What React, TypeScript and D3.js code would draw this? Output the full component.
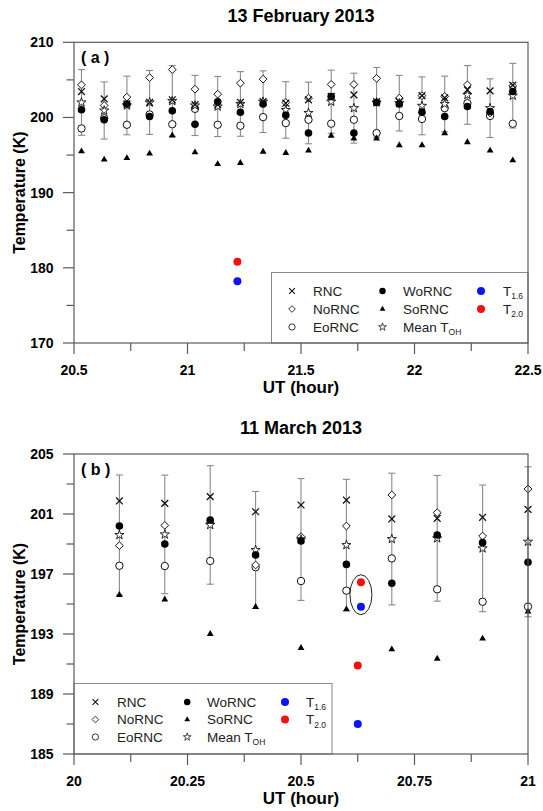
import React from "react";
import * as d3 from "d3";

const FONT = "'Liberation Sans', Arial, Helvetica, sans-serif";

// ---- 13 February 2013 ----
const utFeb = [20.533, 20.633, 20.733, 20.833, 20.933, 21.033, 21.133, 21.233, 21.333, 21.433,
  21.533, 21.633, 21.733, 21.833, 21.933, 22.033, 22.133, 22.233, 22.333, 22.433];
const rncFeb = [203.45, 202.48, 201.8, 202.0, 202.35, 201.7, 201.7, 202.0, 202.1, 201.9,
  202.35, 202.8, 203.0, 202.1, 202.1, 202.9, 202.6, 203.67, 203.54, 204.3];
const norncFeb = [204.34, 201.6, 202.7, 205.3, 206.37, 203.76, 203.1, 204.56, 205.1, 202.0,
  202.57, 204.4, 204.4, 205.2, 202.57, 202.9, 202.8, 204.34, 200.6, 204.2];
const eorncFeb = [198.54, 199.9, 199.03, 200.4, 199.1, 201.15, 199.03, 198.9, 200.05, 199.26,
  199.7, 199.17, 199.7, 197.93, 200.2, 199.8, 201.24, 201.9, 200.2, 199.17];
const worncFeb = [201.02, 199.7, 201.8, 200.13, 200.9, 199.1, 202.1, 200.7, 201.8, 200.3,
  197.93, 202.8, 197.93, 202.0, 201.8, 200.7, 200.13, 201.46, 200.8, 203.45];
const sorncFeb = [195.5, 194.4, 194.6, 195.2, 197.6, 195.36, 193.8, 193.95, 195.45, 195.28,
  195.6, 197.57, 197.2, 197.2, 196.3, 196.3, 197.9, 196.7, 195.6, 194.3];
const meanFeb = [202.0, 200.93, 201.6, 202.0, 202.2, 201.6, 201.46, 201.8, 202.1, 201.0,
  200.6, 202.1, 201.24, 202.0, 201.9, 201.55, 201.8, 203.0, 201.24, 202.9];
const sdFeb = [4.37, 3.8, 3.9, 4.25, 4.7, 4.0, 4.0, 4.3, 4.1, 3.76,
  4.1, 4.2, 4.65, 4.65, 3.7, 3.85, 3.7, 3.9, 3.9, 4.3];
const t16Feb = [[21.22, 178.2]];
const t20Feb = [[21.22, 180.8]];

// ---- 11 March 2013 ----
const utMar = [20.1, 20.2, 20.3, 20.4, 20.5, 20.6, 20.7, 20.8, 20.9, 21.0];
const rncMar = [201.87, 201.71, 202.16, 201.15, 201.6, 201.93, 200.67, 200.71, 200.78, 201.31];
const norncMar = [198.89, 200.24, 200.4, 197.6, 199.49, 200.2, 202.27, 201.09, 199.53, 202.67];
const eorncMar = [197.55, 197.53, 197.87, 197.45, 196.53, 195.89, 198.04, 195.98, 195.15, 194.82];
const worncMar = [200.2, 199.0, 200.6, 198.27, 199.2, 197.64, 196.38, 199.6, 199.09, 197.78];
const sorncMar = [195.6, 195.3, 193.0, 194.8, 192.07, 194.64, 191.98, 191.35, 192.69, 194.49];
const meanMar = [199.6, 199.64, 200.27, 198.6, 199.3, 198.93, 199.33, 199.38, 198.71, 199.15];
const sdMar = [4.0, 3.95, 3.95, 3.9, 4.06, 4.38, 4.39, 4.19, 4.22, 5.0];
const t16Mar = [[20.632, 194.82], [20.625, 187.0]];
const t20Mar = [[20.632, 196.45], [20.625, 190.9]];
const ringMar = [20.632, 195.62];

const ticksFebX = [20.5, 20.75, 21, 21.25, 21.5, 21.75, 22, 22.25, 22.5];
const labelsFebX = [20.5, 21, 21.5, 22, 22.5];
const ticksFebY = [170, 175, 180, 185, 190, 195, 200, 205, 210];
const labelsFebY = [170, 180, 190, 200, 210];
const ticksMarX = [20, 20.125, 20.25, 20.375, 20.5, 20.625, 20.75, 20.875, 21];
const labelsMarX = [20, 20.25, 20.5, 20.75, 21];
const ticksMarY = [185, 187, 189, 191, 193, 195, 197, 199, 201, 203, 205];
const labelsMarY = [185, 189, 193, 197, 201, 205];

const legendNames = ["RNC", "NoRNC", "EoRNC", "WoRNC", "SoRNC", "Mean T", "T", "T"];
const legendSubs = ["", "", "", "", "", "OH", "1.6", "2.0"];
const legendKinds = ["x", "diamond", "open", "filled", "tri", "star", "blue", "red"];

const RED = "#f50f0f";
const BLUE = "#0a14f5";
const AXIS = "#5a5a5a";
const INK = "#222222";

const starPath = d3.symbol(d3.symbolStar, 26)() as string;
const triPath = d3.symbol(d3.symbolTriangle, 20)() as string;

function Marker({ kind, x, y, k = 1 }: { kind: string; x: number; y: number; k?: number }) {
  const t = `translate(${x},${y}) scale(${k})`;
  switch (kind) {
    case "x":
      return <path transform={t} d="M-3.4,-3.4L3.4,3.4M-3.4,3.4L3.4,-3.4" stroke="#111" strokeWidth={1.3} fill="none" />;
    case "diamond":
      return <path transform={t} d="M0,-3.9L3.9,0L0,3.9L-3.9,0Z" stroke="#111" strokeWidth={1} fill="#fff" />;
    case "open":
      return <circle transform={t} r={3.7} stroke="#111" strokeWidth={1} fill="#fff" />;
    case "filled":
      return <circle transform={t} r={3.8} fill="#000" />;
    case "tri":
      return <path transform={t} d={triPath} fill="#000" />;
    case "star":
      return <path transform={t} d={starPath} stroke="#111" strokeWidth={0.9} fill="#fff" />;
    case "blue":
      return <circle cx={x} cy={y} r={4} fill={BLUE} />;
    case "red":
      return <circle cx={x} cy={y} r={4} fill={RED} />;
  }
  return null;
}

type PanelProps = {
  title: string;
  tag: string;
  top: number;
  bottom: number;
  xDomain: [number, number];
  yDomain: [number, number];
  xTicks: number[];
  xLabels: number[];
  yTicks: number[];
  yLabels: number[];
  ut: number[];
  rnc: number[];
  nornc: number[];
  eornc: number[];
  wornc: number[];
  sornc: number[];
  mean: number[];
  sd: number[];
  t16: number[][];
  t20: number[][];
  ring?: number[];
  legend: { box: [number, number, number, number]; symX: number[]; textX: number[]; rowY: number[] };
};

const LEFT = 74;
const RIGHT = 528;

function Panel(p: PanelProps) {
  const x = d3.scaleLinear().domain(p.xDomain).range([LEFT, RIGHT]);
  const y = d3.scaleLinear().domain(p.yDomain).range([p.bottom, p.top]);
  const fmt = (v: number) => String(v);
  const pts = (arr: number[]) => arr.map((v, i) => [x(p.ut[i]), y(v)]);
  const cx = (LEFT + RIGHT) / 2;
  const cy = (p.top + p.bottom) / 2;
  const [bx0, by0, bx1, by1] = p.legend.box;

  return (
    <g>
      <text x={cx} y={p.top - 20.5} textAnchor="middle" fontSize={18} fontWeight="bold" fontFamily={FONT}>{p.title}</text>
      {/* error bars */}
      {p.mean.map((m, i) => {
        const xx = x(p.ut[i]);
        const y0 = y(m - p.sd[i]);
        const y1 = y(m + p.sd[i]);
        return (
          <g key={"e" + i} stroke="#8a8a8a" strokeWidth={1.1}>
            <line x1={xx} x2={xx} y1={y0} y2={y1} />
            <line x1={xx - 3.5} x2={xx + 3.5} y1={y0} y2={y0} />
            <line x1={xx - 3.5} x2={xx + 3.5} y1={y1} y2={y1} />
          </g>
        );
      })}
      {pts(p.eornc).map(([a, b], i) => <Marker key={"o" + i} kind="open" x={a} y={b} />)}
      {pts(p.nornc).map(([a, b], i) => <Marker key={"d" + i} kind="diamond" x={a} y={b} />)}
      {pts(p.mean).map(([a, b], i) => <Marker key={"s" + i} kind="star" x={a} y={b} />)}
      {pts(p.wornc).map(([a, b], i) => <Marker key={"f" + i} kind="filled" x={a} y={b} />)}
      {pts(p.rnc).map(([a, b], i) => <Marker key={"x" + i} kind="x" x={a} y={b} />)}
      {pts(p.sornc).map(([a, b], i) => <Marker key={"t" + i} kind="tri" x={a} y={b} />)}
      {p.t16.map((d, i) => <Marker key={"b" + i} kind="blue" x={x(d[0])} y={y(d[1])} />)}
      {p.t20.map((d, i) => <Marker key={"r" + i} kind="red" x={x(d[0])} y={y(d[1])} />)}
      {p.ring && (
        <ellipse cx={x(p.ring[0])} cy={y(p.ring[1])} rx={11} ry={20} fill="none" stroke="#222" strokeWidth={1} />
      )}
      {/* legend */}
      <rect x={bx0} y={by0} width={bx1 - bx0} height={by1 - by0} fill="#fff" stroke="#8a8a8a" strokeWidth={1} />
      {legendKinds.map((k, i) => {
        const col = Math.floor(i / 3);
        const row = i % 3;
        const sx = p.legend.symX[col];
        const sy = p.legend.rowY[row];
        return (
          <g key={"l" + i}>
            <Marker kind={k} x={sx} y={sy} k={0.85} />
            <text x={p.legend.textX[col]} y={sy + 4.6} fontSize={13.5} fontFamily={FONT} fill={INK}>
              {legendNames[i]}
              {legendSubs[i] && <tspan fontSize={8.5} dy={3.5} fill={INK}>{legendSubs[i]}</tspan>}
            </text>
          </g>
        );
      })}
      {/* frame */}
      <rect x={LEFT} y={p.top} width={RIGHT - LEFT} height={p.bottom - p.top} fill="none" stroke={AXIS} strokeWidth={1.2} />
      {p.yTicks.map((t) => {
        const major = p.yLabels.includes(t);
        return <line key={"yt" + t} x1={LEFT - (major ? 11 : 7.5)} x2={LEFT} y1={y(t)} y2={y(t)} stroke={AXIS} strokeWidth={1.2} />;
      })}
      {p.yLabels.map((t) => (
        <text key={"yl" + t} x={53.5} y={y(t) + 5} textAnchor="end" fontSize={14} fontWeight="bold" fontFamily={FONT}>{fmt(t)}</text>
      ))}
      {p.xTicks.map((t) => {
        const major = p.xLabels.includes(t);
        return <line key={"xt" + t} x1={x(t)} x2={x(t)} y1={p.bottom} y2={p.bottom + (major ? 11 : 8)} stroke={AXIS} strokeWidth={1.2} />;
      })}
      {p.xLabels.map((t) => (
        <text key={"xl" + t} x={x(t)} y={p.bottom + 32} textAnchor="middle" fontSize={14} fontWeight="bold" fontFamily={FONT}>{fmt(t)}</text>
      ))}
      <text x={cx} y={p.bottom + 50} textAnchor="middle" fontSize={17} fontWeight="bold" fontFamily={FONT}>UT (hour)</text>
      <text transform={`translate(25,${cy}) rotate(-90)`} textAnchor="middle" fontSize={16} fontWeight="bold" fontFamily={FONT}>Temperature (K)</text>
      <text x={81} y={p.top + 20.5} fontSize={16} fontWeight="bold" fontFamily={FONT}>{p.tag}</text>
    </g>
  );
}

export default function App() {
  return (
    <svg width={543} height={811} style={{ position: "absolute", left: 0, top: 0, background: "#fff" }}>
      <rect width={543} height={811} fill="#fff" />
      <Panel
        title="13 February 2013"
        tag="( a )"
        top={42.3}
        bottom={343}
        xDomain={[20.5, 22.5]}
        yDomain={[170, 210]}
        xTicks={ticksFebX}
        xLabels={labelsFebX}
        yTicks={ticksFebY}
        yLabels={labelsFebY}
        ut={utFeb}
        rnc={rncFeb}
        nornc={norncFeb}
        eornc={eorncFeb}
        wornc={worncFeb}
        sornc={sorncFeb}
        mean={meanFeb}
        sd={sdFeb}
        t16={t16Feb}
        t20={t20Feb}
        legend={{ box: [271.5, 272.5, 528, 343], symX: [292, 382.5, 481], textX: [313, 403, 503], rowY: [291, 309, 327] }}
      />
      <Panel
        title="11 March 2013"
        tag="( b )"
        top={454}
        bottom={754}
        xDomain={[20, 21]}
        yDomain={[185, 205]}
        xTicks={ticksMarX}
        xLabels={labelsMarX}
        yTicks={ticksMarY}
        yLabels={labelsMarY}
        ut={utMar}
        rnc={rncMar}
        nornc={norncMar}
        eornc={eorncMar}
        wornc={worncMar}
        sornc={sorncMar}
        mean={meanMar}
        sd={sdMar}
        t16={t16Mar}
        t20={t20Mar}
        ring={ringMar}
        legend={{ box: [74, 683.5, 332, 754], symX: [95.4, 187.2, 285], textX: [117, 207, 306], rowY: [702, 719.5, 737] }}
      />
    </svg>
  );
}
